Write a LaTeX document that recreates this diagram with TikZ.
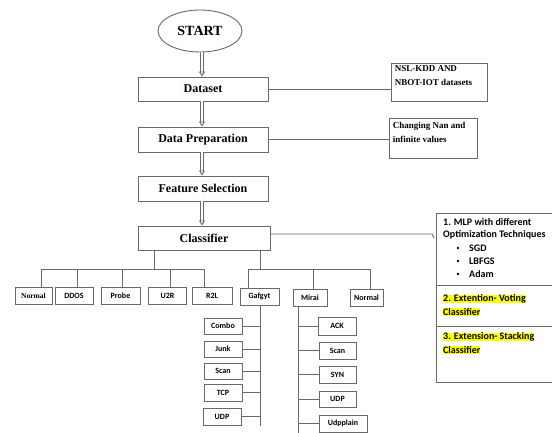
\documentclass[tikz,border=0pt]{standalone}
\usepackage{fontspec}
\setmainfont{Liberation Serif}
\newfontfamily\calfont{Carlito}
\usetikzlibrary{arrows.meta,shapes.geometric}
\definecolor{ln}{RGB}{105,105,105}
\definecolor{hl}{RGB}{255,255,0}
\tikzset{
  bx/.style={draw=ln, line width=0.9pt, inner sep=0pt, font=\bfseries\fontsize{12}{14}\selectfont},
  sbx/.style={draw=ln, line width=0.9pt, inner sep=0pt, minimum height=17pt, font=\calfont\bfseries\fontsize{8}{9}\selectfont},
  ln/.style={draw=ln, line width=0.9pt},
  dbl/.style={draw=ln, line width=0.9pt, double=white, double distance=2pt, -{Triangle[open,length=5pt,width=6pt]}},
  txt/.style={inner sep=0pt, anchor=west, font=\calfont\bfseries\fontsize{10}{12}\selectfont},
  hlt/.style={txt, fill=hl},
  note/.style={anchor=north west, inner sep=0pt, align=left, font=\bfseries\fontsize{9}{14}\selectfont},
}
\begin{document}
\begin{tikzpicture}[x=1pt,y=-1pt]
\useasboundingbox (0,0) rectangle (552,433);
\clip (0,0) rectangle (552,433);
% main column
\node[ellipse, draw=ln, line width=0.9pt, minimum width=84pt, minimum height=42pt, inner sep=0pt, font=\bfseries\fontsize{14}{16}\selectfont] (start) at (200,31) {START};
\node[bx, minimum width=130pt, minimum height=24pt] (ds) at (203,89) {Dataset};
\node[bx, minimum width=130pt, minimum height=25pt] (dp) at (203,139.5) {Data Preparation};
\node[bx, minimum width=130pt, minimum height=25pt] (fs) at (203,188.5) {Feature Selection};
\node[bx, minimum width=132pt, minimum height=24pt] (cl) at (204,238) {Classifier};
% side notes
\node[draw=ln, line width=0.9pt, minimum width=96pt, minimum height=38pt, inner sep=0pt] (nsl) at (439,82) {};
\node[note] (nslt) at ([xshift=4pt,yshift=-3pt]nsl.north west) {NSL-KDD AND\\NBOT-IOT datasets};
\node[draw=ln, line width=0.9pt, minimum width=88pt, minimum height=40pt, inner sep=0pt] (nan) at (433,138) {};
\node[note] (nant) at ([xshift=4pt,yshift=-5pt]nan.north west) {Changing Nan and\\infinite values};
% arrows
\coordinate (ax) at (202,0);
\draw[dbl] (start.south -| ax) -- (ds.north -| ax);
\draw[dbl] (ds.south -| ax) -- (dp.north -| ax);
\draw[dbl] (dp.south -| ax) -- (fs.north -| ax);
\draw[dbl] (fs.south -| ax) -- (cl.north -| ax);
\draw[ln] (ds.east) -- (ds.east -| nsl.west);
\draw[ln] (dp.east) -- (dp.east -| nan.west);
% MLP box
\coordinate (ba) at (436,213);
\coordinate (bb) at (560,382);
\draw[ln] (ba) rectangle (bb);
\coordinate (d1) at (436,285);
\coordinate (d2) at (436,326);
\draw[ln] (d1) -- (d1 -| bb);
\draw[ln] (d2) -- (d2 -| bb);
\node[txt] (m1) at (443,222) {1. MLP with different};
\node[txt] (m2) at (443,235) {Optimization Techniques};
\node[txt] (m3) at (469,248) {SGD};
\node[txt] (m4) at (469,261) {LBFGS};
\node[txt] (m5) at (469,274) {Adam};
\foreach \y in {248,261,274} \fill[black] (458,\y) circle (1.3pt);
\node[hlt] (v1) at (443,299) {2. Extention- Voting};
\node[hlt] (v2) at (443,312) {Classifier};
\node[hlt] (s1) at (443,337) {3. Extension- Stacking};
\node[hlt] (s2) at (443,350) {Classifier};
\coordinate (hk) at (432,234);
\coordinate (hk2) at (434,238);
\draw[ln] (cl.east |- hk) -- (hk) -- (hk2);
% left branch
\node[sbx, minimum width=37pt, font=\bfseries\fontsize{7.5}{9}\selectfont] (n1) at (33.5,296) {Normal};
\node[sbx, minimum width=38pt] (dd) at (74,296) {DDOS};
\node[sbx, minimum width=39pt] (pr) at (120.5,296) {Probe};
\node[sbx, minimum width=38pt] (u2) at (167.5,296) {U2R};
\node[sbx, minimum width=40pt] (r2) at (212,296) {R2L};
\coordinate (j1) at (154,269);
\draw[ln] (cl.south -| j1) -- (j1);
\coordinate (lb) at (41,269);
\coordinate (rb) at (204,269);
\draw[ln] (lb) -- (rb);
\draw[ln] (lb) -- (lb |- n1.north);
\draw[ln] (dd.north -| 77,0) -- (77,269);
\draw[ln] (pr.north -| 122,0) -- (122,269);
\draw[ln] (u2.north -| 170,0) -- (170,269);
\draw[ln] (r2.north -| rb) -- (rb);
% right branch
\node[sbx, minimum width=39pt] (gf) at (259.5,296.5) {Gafgyt};
\node[sbx, minimum width=34pt] (mi) at (310,297.5) {Mirai};
\node[sbx, minimum width=33pt] (n2) at (366.5,297.5) {Normal};
\coordinate (j2) at (260,269);
\draw[ln] (cl.south -| j2) -- (j2);
\coordinate (l2) at (248,269);
\coordinate (r2b) at (370,269);
\draw[ln] (l2) -- (r2b);
\draw[ln] (l2) -- (l2 |- gf.north);
\draw[ln] (mi.north -| 313,0) -- (313,269);
\draw[ln] (r2b) -- (r2b |- n2.north);
% Gafgyt sub
\node[sbx, minimum width=38pt, minimum height=16pt] (g1) at (223,326) {Combo};
\node[sbx, minimum width=38pt, minimum height=16pt] (g2) at (223,349) {Junk};
\node[sbx, minimum width=38pt, minimum height=16pt] (g3) at (223,371) {Scan};
\node[sbx, minimum width=38pt, minimum height=17pt] (g4) at (223,392.5) {TCP};
\node[sbx, minimum width=38pt, minimum height=17pt] (g5) at (222,416.5) {UDP};
\coordinate (gb) at (260,426);
\draw[ln] (gf.south -| gb) -- (gb);
\foreach \n in {g1,g2,g3,g4,g5} \draw[ln] (\n.east) -- (\n.east -| gb);
% Mirai sub
\node[sbx, minimum width=38pt, minimum height=18pt] (a1) at (337,326) {ACK};
\node[sbx, minimum width=37pt, minimum height=17pt] (a2) at (337.5,350.5) {Scan};
\node[sbx, minimum width=37pt, minimum height=17pt] (a3) at (337.5,374.5) {SYN};
\node[sbx, minimum width=37pt, minimum height=16pt] (a4) at (337.5,399) {UDP};
\node[sbx, minimum width=48pt, minimum height=17pt] (a5) at (343,423.5) {Udpplain};
\coordinate (mb) at (298,440);
\draw[ln] (mi.south -| mb) -- (mb);
\foreach \n in {a1,a2,a3,a4,a5} \draw[ln] (\n.west -| mb) -- (\n.west);
\end{tikzpicture}
\end{document}
